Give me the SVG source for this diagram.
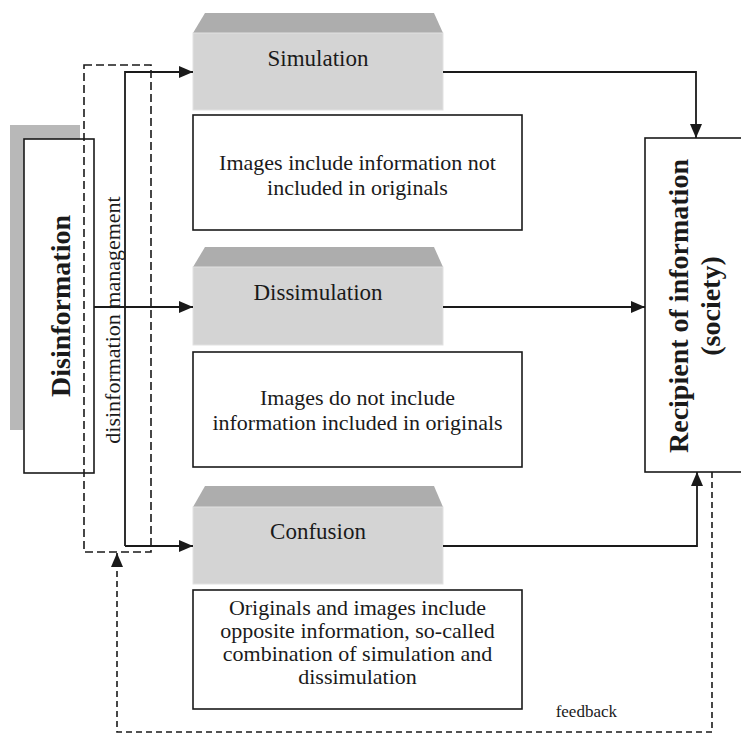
<svg xmlns="http://www.w3.org/2000/svg" width="741" height="735" viewBox="0 0 741 735">
  <style>
    .bg { fill: #ffffff; }
    .box { fill: #ffffff; stroke: #1a1a1a; stroke-width: 1.6; }
    .face { fill: #d4d4d4; stroke: #e2e2e2; stroke-width: 1; }
    .bevel { fill: #adadad; }
    .shadow { fill: #b8b8b8; }
    .t { font-family: "Liberation Serif", "Times New Roman", serif; fill: #1a1a1a; }
    .title { font-size: 23px; text-anchor: middle; }
    .label { font-size: 22px; text-anchor: middle; }
    .desc { font-size: 22px; text-anchor: middle; }
    .bold { font-size: 28px; font-weight: bold; text-anchor: middle; }
    .wire { fill: none; stroke: #1a1a1a; stroke-width: 1.8; }
    .dash { fill: none; stroke: #1a1a1a; stroke-width: 1.6; stroke-dasharray: 8 4; }
    .dash2 { fill: none; stroke: #1a1a1a; stroke-width: 1.6; stroke-dasharray: 6 4; }
  </style>
  <defs>
    <marker id="arrow" viewBox="0 0 14 12" refX="14" refY="6" markerWidth="14" markerHeight="12" markerUnits="userSpaceOnUse" orient="auto">
      <path d="M0,0 L14,6 L0,12 Z" fill="#1a1a1a"/>
    </marker>
  </defs>
  <rect class="bg" x="0" y="0" width="741" height="735"/>

  <!-- Source node -->
  <g id="disinformation">
    <rect class="shadow" x="10" y="125" width="70" height="305"/>
    <rect class="box" x="24" y="139" width="70" height="334"/>
    <text class="t bold" transform="translate(70,306) rotate(-90)">Disinformation</text>
  </g>

  <!-- Management frame (dashed) with its label -->
  <g id="management">
    <rect class="dash" x="84" y="65" width="67" height="487"/>
    <text class="t label" transform="translate(120,320) rotate(-90)">disinformation management</text>
  </g>

  <!-- Simulation -->
  <g id="simulation">
    <path class="bevel" d="M193,33 L205,13 L434,13 L443,33 Z"/>
    <rect class="face" x="193" y="33" width="250" height="77"/>
    <text class="t title" x="318" y="66">Simulation</text>
  </g>
  <g id="simulation-desc">
    <rect class="box" x="193" y="115" width="329" height="115"/>
    <text class="t desc" x="357.5" y="170">Images include information not</text>
    <text class="t desc" x="357.5" y="195">included in originals</text>
  </g>

  <!-- Dissimulation -->
  <g id="dissimulation">
    <path class="bevel" d="M193,267 L205,247 L434,247 L443,267 Z"/>
    <rect class="face" x="193" y="267" width="250" height="78"/>
    <text class="t title" x="318" y="300">Dissimulation</text>
  </g>
  <g id="dissimulation-desc">
    <rect class="box" x="193" y="352" width="329" height="115"/>
    <text class="t desc" x="357.5" y="405">Images do not include</text>
    <text class="t desc" x="357.5" y="430">information included in originals</text>
  </g>

  <!-- Confusion -->
  <g id="confusion">
    <path class="bevel" d="M193,507 L205,486 L434,486 L443,507 Z"/>
    <rect class="face" x="193" y="507" width="250" height="77"/>
    <text class="t title" x="318" y="539">Confusion</text>
  </g>
  <g id="confusion-desc">
    <rect class="box" x="193" y="590" width="329" height="119"/>
    <text class="t desc" x="357.5" y="615">Originals and images include</text>
    <text class="t desc" x="357.5" y="638">opposite information, so-called</text>
    <text class="t desc" x="357.5" y="661">combination of simulation and</text>
    <text class="t desc" x="357.5" y="684">dissimulation</text>
  </g>

  <!-- Recipient -->
  <g id="recipient">
    <rect class="box" x="645" y="138" width="100" height="334"/>
    <text class="t bold" transform="translate(688,306) rotate(-90)">Recipient of information</text>
    <text class="t bold" transform="translate(720,306) rotate(-90)">(society)</text>
  </g>

  <!-- Connectors -->
  <g id="connectors">
    <path class="wire" d="M125,546 L125,72 L193,72" marker-end="url(#arrow)"/>
    <path class="wire" d="M125,546 L193,546" marker-end="url(#arrow)"/>
    <path class="wire" d="M94,307 L193,307" marker-end="url(#arrow)"/>
    <path class="wire" d="M443,72 L696,72 L696,138" marker-end="url(#arrow)"/>
    <path class="wire" d="M443,307 L645,307" marker-end="url(#arrow)"/>
    <path class="wire" d="M443,546 L697,546 L697,472" marker-end="url(#arrow)"/>
    <path class="dash2" d="M712,472 L712,732 L117,732 L117,553" marker-end="url(#arrow)"/>
    <text class="t" x="617" y="717" font-size="17" text-anchor="end">feedback</text>
  </g>
</svg>
